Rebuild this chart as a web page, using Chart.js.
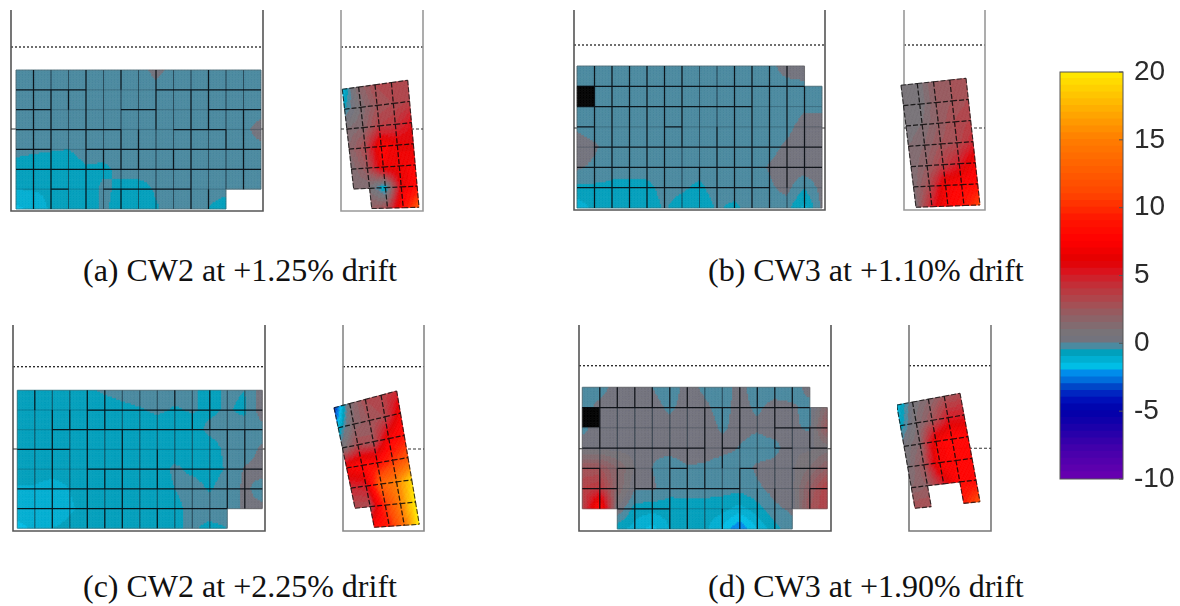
<!DOCTYPE html>
<html>
<head>
<meta charset="utf-8">
<title>Wall strain fields</title>
<script src="https://cdn.jsdelivr.net/npm/chart.js@4"></script>
<style>
  body { margin: 0; background: #fff; overflow: hidden; }
  #page { position: relative; width: 1180px; height: 606px; }
  canvas { position: absolute; }
  canvas.wall { filter: blur(0.4px); }
  .caption { position: absolute; font-family: "Liberation Serif", serif; font-size: 32px; line-height: 32px; color: #111; white-space: nowrap; }
</style>
</head>
<body>
<div id="page"></div>
<script>
// Captions and colorbar
const captions = ["(a) CW2 at +1.25% drift", "(b) CW3 at +1.10% drift", "(c) CW2 at +2.25% drift", "(d) CW3 at +1.90% drift"];
const colorbarTicks = [-10, -5, 0, 5, 10, 15, 20];

// Node values (rows top to bottom)
const fieldAMain = [
  [-.3,-.3,-.3,-.3,-.3,-.3,-.3,-.3,.2,-.2,-.3,-.3,-.3,-.3,-.3],
  [-.3,-.3,-.3,-.3,-.3,-.3,-.3,-.3,-.2,-.3,-.3,-.3,-.3,-.3,-.3],
  [-.2,-.3,-.3,-.3,-.3,-.3,-.3,-.3,-.3,-.3,-.3,-.3,-.3,-.3,-.3],
  [-.3,-.3,-.3,-.3,-.3,-.3,-.3,-.3,-.3,-.3,-.3,-.3,-.3,-.2,.3],
  [-.35,-.4,-.45,-.5,-.3,-.3,-.3,-.3,-.3,-.3,-.3,-.3,-.3,-.3,-.2],
  [-.7,-.8,-.85,-.8,-.55,-.6,-.4,-.3,-.3,-.3,-.3,-.3,-.3,-.3,-.3],
  [-1,-.95,-.9,-.85,-.8,-.4,-.6,-.7,-.45,-.3,-.3,-.3,-.3,-.3,-.3],
  [-1.6,-1.4,-.9,-.9,-.8,-.4,-.7,-.8,-.55,-.3,-.3,-.5,-.8,-.3,-.3]
];
const fieldASide = [
  [-1.6,1.5,3,3.5,3.5],
  [-.6,1,2.5,3,3.5],
  [1,1.5,3.5,4,5.5],
  [1.5,3,7.5,6.5,6],
  [1,2.5,7,6.5,7.5],
  [1,1,-1.5,6,8],
  [1,2,3,8,12]
];
const fieldBMain = [
  [-.3,-.3,-.3,-.3,-.3,-.3,-.3,-.3,-.3,-.3,-.3,-.2,.3,.3,.3],
  [-.3,-.3,-.3,-.3,-.3,-.3,-.3,-.3,-.3,-.3,-.3,-.3,-.2,-.1,-.3],
  [-.3,-.3,-.3,-.3,-.3,-.3,-.3,-.3,-.3,-.3,-.3,-.3,-.3,-.1,-.1],
  [-.1,-.3,-.3,-.3,-.3,-.3,-.3,-.3,-.3,-.3,-.3,-.3,-.15,.2,.2],
  [.3,.1,-.3,-.3,-.3,-.3,-.3,-.3,-.3,-.3,-.3,-.2,.1,.3,.3],
  [.1,-.1,-.3,-.3,-.3,-.3,-.3,-.3,-.3,-.3,-.3,.05,.3,.3,.4],
  [-.62,-.6,-.62,-.65,-.62,-.35,-.42,-.6,-.3,-.3,-.3,-.1,.2,-.45,.2],
  [-1.3,-.9,-.8,-.8,-.8,-.45,-.7,-.8,-.45,-.6,-.3,-.3,-.3,-1.2,.1]
];
const fieldBSide = [
  [.5,.5,2,2.5,3],
  [.5,.5,2,2.5,3],
  [.5,1,2,3,3.5],
  [1,1.5,2.5,3,4.5],
  [1,2,3.5,5,7],
  [1,3,7,7.5,8],
  [1,5,7.5,8.5,11]
];
const fieldCMain = [
  [-.8,-.8,-.8,-.8,-.6,-.4,-.3,-.2,-.3,-.3,-.4,-.7,-.4,-.5,.3],
  [-.8,-.8,-.8,-.8,-.8,-.8,-.65,-.55,-.4,-.55,-.45,-.6,-.45,-.6,.3],
  [-.8,-.8,-.8,-.8,-.8,-.8,-.8,-.8,-.8,-.8,-.7,-.4,-.3,-.3,-.2],
  [-.8,-.8,-.8,-.8,-.8,-.8,-.8,-.8,-.8,-.8,-.75,-.7,-.4,-.3,.1],
  [-.8,-.8,-.8,-.8,-.8,-.8,-.8,-.8,-.8,-.4,-.6,-.7,-.45,.05,.2],
  [-1.05,-1.05,-1.2,-1,-.8,-.8,-.8,-.8,-.8,-.5,-.3,-.55,-.3,.1,-.2],
  [-1.1,-1.2,-1.3,-1.05,-.9,-.9,-.9,-.9,-.8,-.65,-.35,-.3,-.3,.1,.1],
  [-1.7,-1.4,-1,-.9,-.9,-.9,-.9,-.9,-.75,-.55,-.45,-.6,-.5,.1,.1]
];
const fieldCSide = [
  [-4,1,3,3.5,4.5],
  [-1.5,1.5,2.5,3,7],
  [.5,3,2.5,7,8.5],
  [7,8,8,10,12],
  [4.5,5,13,15,19],
  [3,3,10,15,20],
  [3,8,9,14,20]
];
const fieldDMain = [
  [-.3,-.3,.3,.3,0,-.3,.2,-.1,-.3,.2,-.3,-.3,-.3,.2,.3],
  [-.3,.2,.3,.3,.2,-.1,.2,.1,-.2,.2,-.1,.2,.1,-.2,1.5],
  [-.2,.3,.3,.3,.3,.2,.3,.3,-.1,.2,.1,.3,.1,-.1,2.5],
  [.3,.3,.3,.3,.1,.2,.3,.3,.2,-.02,-.3,-.2,.4,.4,.7],
  [2.5,2.5,1.5,.5,0,-.3,-.05,-.1,-.3,-.3,.1,.2,.4,1,2],
  [3.5,4,1.5,.1,.1,-.3,-.3,-.3,-.3,-.3,-.1,.2,.3,2,3.5],
  [3,8.5,.5,-.7,-.8,-.75,-.7,-.7,-.8,-1.2,-.7,-.1,.1,2.5,3.5],
  [3,9,-.8,-1.2,-1.7,-1,-.9,-.85,-1.6,-2.5,-1.5,-.7,-.2,2.5,3.5]
];
const fieldDSide = [
  [-1.5,.5,1.5,2.5,3],
  [-1,1,2.5,5,5],
  [.5,1.5,7,8,8],
  [.7,2.5,7.5,7.5,8],
  [1.5,2,5,8,8],
  [3,3,4,9,11.5]
];

// Which mesh segments read as dark (#) or faint (.)
const horizA = ["####....######","##....##...###","######...###..","##..##########","##############","..#..#####...."];
const vertA = ["#######",".######",".#.....","#######","....#..","#..##.#","...##..","###....","....#..",".######","###...#","...#...","..####."];
const horizB = ["##############","##########....","#....#........",".#############","##############","###########..."];
const vertB = ["#######","#######","#######","#######","#######","####...",".....#.","...####","#######","#######","#######","######.",".######"];
const horizC = ["....##########","..############","###...........","....##########","##############","##############"];
const vertC = ["#......",".######",".#.....","#######","##..#.#","..#####",".......","...##.#","#......",".#.....","##.....","..#####","..####."];
const horizD = ["#############.","...........###","#######.#..#.#","#.#..#...#..##","##.######....#","..###.......#."];
const vertD = ["###.###","#...##.","#...###","#...###","#..####","#..####",".####..",".###..#","###.###","#....##","###..##","#......","..#..#."];

// Colormap stops, value then rgb
const colorStops = [[-10,105,0,175],[-7.5,60,0,170],[-6,20,0,170],[-5,0,0,170],[-4,0,20,190],[-3.25,0,70,200],[-2.75,0,110,220],[-2.25,0,140,235],[-1.75,0,190,230],[-1.25,0,175,210],[-.75,0,160,188],[-.25,75,138,160],[.25,115,115,125],[.75,120,115,120],[2,145,95,100],[3,170,75,80],[4.5,200,40,50],[5.5,225,10,20],[6,225,0,0],[7.5,255,0,0],[9,255,20,0],[11,255,70,0],[15,255,125,0],[17,255,170,0],[20,255,235,0]];
const bandStep = 0.5;

function bandColor(v) {
  const mid = Math.min(19.75, Math.max(-9.75, Math.floor(v / bandStep) * bandStep + bandStep / 2));
  for (let i = 1; i < colorStops.length; i++) {
    const a = colorStops[i - 1], b = colorStops[i];
    if (mid <= b[0]) {
      const t = (mid - a[0]) / (b[0] - a[0]);
      return `rgb(${Math.round(a[1] + (b[1] - a[1]) * t)},${Math.round(a[2] + (b[2] - a[2]) * t)},${Math.round(a[3] + (b[3] - a[3]) * t)})`;
    }
  }
  return "rgb(255,235,0)";
}

// Panel placement on the page
const panels = [
  { frame: [11, 10, 263, 211], dotted: 47, mid: 129, corners: [[16, 70], [261, 70], [261, 209], [16, 209]], field: fieldAMain, cut: [[6, 12], [6, 13]], black: [], horiz: horizA, vert: vertA, frameColor: "#555" },
  { frame: [341, 10, 423, 211], dotted: 47, mid: 129, corners: [[342.3, 89.3], [407.7, 80.3], [419, 207.3], [356, 209]], field: fieldASide, cut: [[5, 0]], black: [], frameColor: "#999" },
  { frame: [574, 10, 825, 210], dotted: 45, mid: 128, corners: [[577, 66], [822, 66], [822, 208], [577, 208]], field: fieldBMain, cut: [[0, 13]], black: [[1, 0]], horiz: horizB, vert: vertB, frameColor: "#555" },
  { frame: [904, 10, 985, 210], dotted: 45, mid: 128, corners: [[901, 85.3], [966, 78.3], [980, 205], [916, 207.3]], field: fieldBSide, cut: [], black: [], frameColor: "#999" },
  { frame: [13, 325, 265, 531], dotted: 366.7, mid: 449, corners: [[17.3, 390.3], [262.3, 390.3], [262.3, 528.3], [17.3, 528.3]], field: fieldCMain, cut: [[6, 12], [6, 13]], black: [], horiz: horizC, vert: vertC, frameColor: "#555" },
  { frame: [343, 325, 424, 531], dotted: 366.7, mid: 449, corners: [[334, 407.7], [396.7, 391], [419.3, 524.3], [359.3, 528.3]], field: fieldCSide, cut: [[5, 0]], black: [], frameColor: "#888" },
  { frame: [579, 325, 831, 531], dotted: 365.7, mid: 448.7, corners: [[582.3, 387.3], [827.3, 387.3], [827.3, 529], [582.3, 529]], field: fieldDMain, cut: [[0, 13], [6, 0], [6, 1], [6, 12], [6, 13]], black: [[1, 0]], horiz: horizD, vert: vertD, frameColor: "#555" },
  { frame: [909, 325, 991, 531], dotted: 365.7, mid: 448.3, corners: [[896.7, 405], [960, 393.3], [980, 501.7], [915, 508.3]], field: fieldDSide, cut: [[4, 1], [4, 2]], black: [], frameColor: "#777" }
];

const captionBoxes = [[83, 254], [708, 254], [83, 570], [708, 570]];

// Fills the wall cells from the node elements of the "field" dataset
const fieldPlugin = {
  id: "fieldPlugin",
  afterDatasetDraw(chart, args) {
    const ds = chart.data.datasets[args.index];
    if (!ds.wall) return;
    const ctx = chart.ctx, els = args.meta.data, nc = ds.wall.cols, nr = ds.wall.rows;
    const vals = ds.data.map((d) => d.v);
    const sub = 12;
    ctx.save();
    for (let r = 0; r < nr; r++) {
      for (let c = 0; c < nc; c++) {
        if (ds.wall.isCut(r, c)) continue;
        const ids = [r * (nc + 1) + c, r * (nc + 1) + c + 1, (r + 1) * (nc + 1) + c + 1, (r + 1) * (nc + 1) + c];
        const p = ids.map((i) => els[i]), v = ids.map((i) => vals[i]);
        const at = (u, t) => ({
          x: (1 - t) * ((1 - u) * p[0].x + u * p[1].x) + t * ((1 - u) * p[3].x + u * p[2].x),
          y: (1 - t) * ((1 - u) * p[0].y + u * p[1].y) + t * ((1 - u) * p[3].y + u * p[2].y)
        });
        for (let i = 0; i < sub; i++) {
          for (let j = 0; j < sub; j++) {
            const u = (i + 0.5) / sub, t = (j + 0.5) / sub;
            const val = (1 - t) * ((1 - u) * v[0] + u * v[1]) + t * ((1 - u) * v[3] + u * v[2]);
            const q = [at(i / sub, j / sub), at((i + 1) / sub, j / sub), at((i + 1) / sub, (j + 1) / sub), at(i / sub, (j + 1) / sub)];
            const col = ds.wall.isBlack(r, c) ? "#000" : bandColor(val);
            ctx.fillStyle = col;
            ctx.strokeStyle = col;
            ctx.lineWidth = 0.6;
            ctx.beginPath();
            ctx.moveTo(q[0].x, q[0].y);
            for (let k = 1; k < 4; k++) ctx.lineTo(q[k].x, q[k].y);
            ctx.closePath();
            ctx.fill();
            ctx.stroke();
          }
        }
      }
    }
    ctx.restore();
  }
};

function lineSet(data, color, width, dash, order) {
  return { data, borderColor: color, borderWidth: width, borderDash: dash, showLine: true, pointRadius: 0, tension: 0, spanGaps: false, clip: false, order };
}

function buildPanel(p) {
  const [x0, y0, x1, y1] = p.frame;
  const pad = 12;
  const canvas = document.createElement("canvas");
  canvas.className = "wall";
  canvas.width = x1 - x0 + pad * 2;
  canvas.height = y1 - y0 + pad * 2;
  canvas.style.left = x0 - pad + "px";
  canvas.style.top = y0 - pad + "px";
  document.getElementById("page").appendChild(canvas);

  const nr = p.field.length - 1, nc = p.field[0].length - 1;
  const node = (r, c) => {
    const u = c / nc, t = r / nr, k = p.corners;
    return {
      x: (1 - t) * ((1 - u) * k[0][0] + u * k[1][0]) + t * ((1 - u) * k[3][0] + u * k[2][0]),
      y: (1 - t) * ((1 - u) * k[0][1] + u * k[1][1]) + t * ((1 - u) * k[3][1] + u * k[2][1])
    };
  };
  const isCut = (r, c) => p.cut.some((e) => e[0] === r && e[1] === c);
  const exists = (r, c) => r >= 0 && c >= 0 && r < nr && c < nc && !isCut(r, c);

  const nodes = [];
  p.field.forEach((row, r) => row.forEach((v, c) => nodes.push({ ...node(r, c), v })));

  // mesh segments, split by how dark they read
  const dark = [], faint = [], edge = [];
  const add = (list, a, b) => {
    list.push(a, b, { x: null, y: null });
  };
  for (let r = 0; r <= nr; r++) {
    for (let c = 0; c < nc; c++) {
      const a = exists(r - 1, c), b = exists(r, c);
      if (!a && !b) continue;
      if (a !== b || r === 0 || r === nr) add(edge, node(r, c), node(r, c + 1));
      else if (!p.horiz || p.horiz[r - 1][c] === "#") add(dark, node(r, c), node(r, c + 1));
      else add(faint, node(r, c), node(r, c + 1));
    }
  }
  for (let c = 0; c <= nc; c++) {
    for (let r = 0; r < nr; r++) {
      const a = exists(r, c - 1), b = exists(r, c);
      if (!a && !b) continue;
      if (a !== b || c === 0 || c === nc) add(edge, node(r, c), node(r + 1, c));
      else if (!p.vert || p.vert[c - 1][r] === "#") add(dark, node(r, c), node(r + 1, c));
      else add(faint, node(r, c), node(r + 1, c));
    }
  }
  const isSide = !p.horiz;

  const field = { data: nodes, showLine: false, pointRadius: 0, clip: false, order: 4, wall: { rows: nr, cols: nc, isCut, isBlack: (r, c) => p.black.some((e) => e[0] === r && e[1] === c) } };

  new Chart(canvas, {
    type: "scatter",
    data: {
      datasets: [
        lineSet([{ x: x0, y: y0 }, { x: x0, y: y1 }, { x: x1, y: y1 }, { x: x1, y: y0 }], p.frameColor, 1.6, [], 6),
        lineSet([{ x: x0, y: p.dotted }, { x: x1, y: p.dotted }], "#222", 1.3, [2, 2], 6),
        lineSet([{ x: x0, y: p.mid }, { x: x1, y: p.mid }], "#333", 1.1, isSide ? [3, 2] : [], 5),
        field,
        lineSet(edge, isSide ? "rgba(20,20,20,.8)" : "rgba(80,80,80,.45)", 1.1, isSide ? [5, 2] : [], 2),
        lineSet(faint, "rgba(20,40,50,.28)", 1, [], 3),
        lineSet(dark, isSide ? "rgba(10,10,10,.85)" : "rgba(5,10,15,.9)", 1.25, isSide ? [5, 2] : [], 1)
      ]
    },
    options: {
      responsive: false,
      animation: false,
      layout: { padding: 0 },
      plugins: { legend: { display: false }, tooltip: { enabled: false } },
      scales: {
        x: { type: "linear", display: false, min: x0 - pad, max: x1 + pad },
        y: { type: "linear", display: false, reverse: true, min: y0 - pad, max: y1 + pad }
      }
    },
    plugins: [fieldPlugin]
  });
}

function buildColorbar() {
  const canvas = document.createElement("canvas");
  canvas.width = 125;
  canvas.height = 450;
  canvas.style.left = "1055px";
  canvas.style.top = "50px";
  document.getElementById("page").appendChild(canvas);

  // bands overlap a hair so no seam shows between them
  const datasets = [];
  for (let lo = -10; lo < 20; lo += bandStep) {
    datasets.push({ data: [[Math.max(-10, lo - 0.04), Math.min(20, lo + bandStep + 0.04)]], backgroundColor: bandColor(lo), borderWidth: 0, barPercentage: 1, categoryPercentage: 1, grouped: false });
  }

  new Chart(canvas, {
    type: "bar",
    data: { labels: ["strain"], datasets },
    options: {
      responsive: false,
      animation: false,
      layout: { padding: { left: 5, top: 22, bottom: 21 } },
      plugins: { legend: { display: false }, tooltip: { enabled: false } },
      scales: {
        x: { display: false },
        y: {
          position: "right",
          min: -10,
          max: 20,
          afterFit(s) { s.width = 57; s.paddingTop = 0; s.paddingBottom = 0; },
          afterBuildTicks(s) { s.ticks = colorbarTicks.map((value) => ({ value })); },
          grid: { drawOnChartArea: false, drawTicks: false },
          border: { display: false },
          ticks: { padding: 11, color: "#2b2b2b", font: { family: "'Liberation Sans', Arial, sans-serif", size: 28 } }
        }
      }
    },
    plugins: [{
      id: "barFrame",
      afterDatasetsDraw(chart) {
        const { ctx, chartArea: a, scales: { y } } = chart;
        ctx.save();
        ctx.strokeStyle = "#555";
        ctx.lineWidth = 1;
        ctx.strokeRect(a.left, a.top, a.right - a.left, a.bottom - a.top);
        colorbarTicks.forEach((t) => {
          const py = y.getPixelForValue(t);
          ctx.beginPath();
          ctx.moveTo(a.right - 4, py);
          ctx.lineTo(a.right, py);
          ctx.stroke();
        });
        ctx.restore();
      }
    }]
  });
}

panels.forEach(buildPanel);
buildColorbar();

captions.forEach((text, i) => {
  const el = document.createElement("div");
  el.className = "caption";
  el.textContent = text;
  el.style.left = captionBoxes[i][0] + "px";
  el.style.top = captionBoxes[i][1] + "px";
  document.getElementById("page").appendChild(el);
});
</script>
</body>
</html>
